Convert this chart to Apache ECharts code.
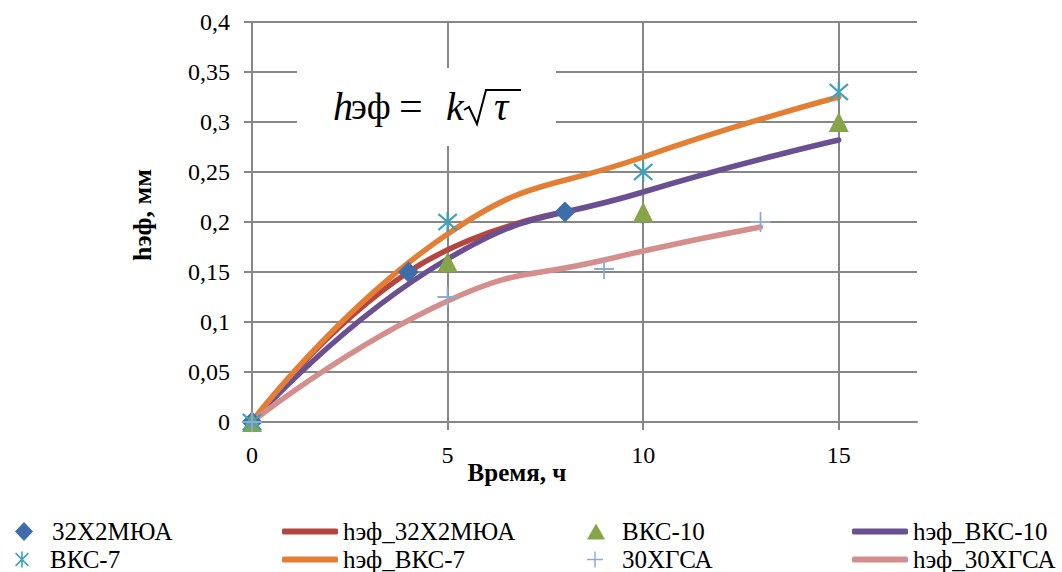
<!DOCTYPE html>
<html><head><meta charset="utf-8">
<script src="https://cdn.jsdelivr.net/npm/echarts@6/dist/echarts.min.js"></script>
<style>html,body{margin:0;padding:0;background:#fff}#c{width:1062px;height:572px}</style>
</head><body><div id="c"></div><script>
// ---- data ----
const xTicks = [0, 5, 10, 15];
const yTicks = [0, 0.05, 0.1, 0.15, 0.2, 0.25, 0.3, 0.35, 0.4];

const x32 = [0, 4, 8];           const y32 = [0, 0.15, 0.21];
const x32fit = [0, 4, 8];        const y32fit = [0, 0.15, 0.21];
const xV10 = [0, 5, 10, 15];     const yV10 = [0, 0.16, 0.21, 0.30];
const xV10fit = [0, 5, 10, 15];  const yV10fit = [0, 0.163, 0.23, 0.282];
const xV7 = [0, 5, 10, 15];      const yV7 = [0, 0.20, 0.25, 0.33];
const xV7fit = [0, 5, 10, 15];   const yV7fit = [0, 0.188, 0.265, 0.325];
const x30 = [0, 5, 9, 13];       const y30 = [0, 0.125, 0.153, 0.20];
const x30fit = [0, 5, 9, 13];    const y30fit = [0, 0.121, 0.162, 0.195];

const names = ['32Х2МЮА','hэф_32Х2МЮА','ВКС-10','hэф_ВКС-10','ВКС-7','hэф_ВКС-7','30ХГСА','hэф_30ХГСА'];

// ---- styling ----
const FONT = 'Liberation Serif';
const GRID = '#878787';
const pair = (xs, ys) => xs.map((x, i) => [x, ys[i]]);
const ASTER = 'path://M9,0H11V20H9Z M2.7,1.3L18.7,17.3L17.3,18.7L1.3,2.7Z M17.3,1.3L18.7,2.7L2.7,18.7L1.3,17.3Z';
const PLUS = 'path://M9.1,0H10.9V20H9.1Z M0,9.1H20V10.9H0Z';

function sc(name, xs, ys, symbol, size, color) {
  return { name, type: 'scatter', data: pair(xs, ys), symbol, symbolSize: size, z: 4,
    itemStyle: { color, opacity: 1 }, emphasis: { disabled: true } };
}
function ln(name, xs, ys, color) {
  return { name, type: 'line', data: pair(xs, ys), smooth: 0.5, symbol: 'none', z: 3,
    lineStyle: { color, width: 5.5, cap: 'round' }, itemStyle: { color }, emphasis: { disabled: true } };
}
const C = { dia: '#3E6EAA', red: '#B5453F', grn: '#86A44A', pur: '#6A5090', teal: '#3FA2BA', org: '#E27F34', lb: '#8EABD6', pink: '#D48F8D' };

const series = [
  ln(names[1], x32fit, y32fit, C.red),
  ln(names[3], xV10fit, yV10fit, C.pur),
  ln(names[5], xV7fit, yV7fit, C.org),
  ln(names[7], x30fit, y30fit, C.pink),
  sc(names[0], x32, y32, 'diamond', 21, C.dia),
  sc(names[2], xV10, yV10, 'triangle', 20, C.grn),
  sc(names[4], xV7, yV7, ASTER, 20, C.teal),
  sc(names[6], x30, y30, PLUS, 20, C.lb)
];

function leg(name, left, top, w, h, padL, icon) {
  const o = { data: [name], left, top, itemWidth: w, itemHeight: h, selectedMode: false,
    textStyle: { fontFamily: FONT, fontSize: 25, color: '#000', padding: [0, 0, 0, padL] } };
  if (icon) o.icon = icon;
  return o;
}
const legends = [
  leg(names[0], 10, 514, 18, 19, 14),
  leg(names[1], 277, 514, 56, 6, 0, 'roundRect'),
  leg(names[2], 582, 514, 18, 16, 12),
  leg(names[3], 847, 514, 56, 6, 0, 'roundRect'),
  leg(names[4], 10, 542, 18, 16, 14),
  leg(names[5], 277, 542, 56, 6, 0, 'roundRect'),
  leg(names[6], 582, 542, 16, 16, 14),
  leg(names[7], 847, 542, 56, 6, 0, 'roundRect')
];

const chart = echarts.init(document.getElementById('c'), null, { renderer: 'svg' });
chart.setOption({
  animation: false,
  backgroundColor: '#fff',
  textStyle: { fontFamily: FONT },
  grid: { left: 252, right: 145, top: 22, bottom: 150, containLabel: false, outerBoundsMode: 'none' },
  xAxis: {
    type: 'value', min: 0, max: 17, interval: 5,
    axisLine: { show: true, onZero: false, lineStyle: { color: GRID, width: 2 } },
    axisTick: { show: true, length: 8, customValues: xTicks, lineStyle: { color: GRID, width: 2 } },
    axisLabel: { customValues: xTicks, margin: 21, fontFamily: FONT, fontSize: 24, color: '#000' },
    splitLine: { show: true, lineStyle: { color: GRID, width: 2 } }
  },
  yAxis: {
    type: 'value', min: 0, max: 0.4, interval: 0.05,
    axisLine: { show: true, onZero: false, lineStyle: { color: GRID, width: 2 } },
    axisTick: { show: true, length: 8, lineStyle: { color: GRID, width: 2 } },
    axisLabel: { margin: 22, fontFamily: FONT, fontSize: 24, color: '#000',
      formatter: v => String(+v.toFixed(2)).replace('.', ',') },
    splitLine: { show: true, lineStyle: { color: GRID, width: 2 } }
  },
  legend: legends,
  series,
  graphic: {
    elements: [
      { type: 'rect', z: 5, shape: { x: 297, y: 68, width: 259, height: 78 }, style: { fill: '#fff' } },
      { type: 'text', z: 6, x: 333, y: 106, style: { text: 'h', fontFamily: FONT, fontSize: 40, fontStyle: 'italic', fill: '#000', verticalAlign: 'middle' } },
      { type: 'text', z: 6, x: 351, y: 106, style: { text: 'эф', fontFamily: FONT, fontSize: 37, fill: '#000', verticalAlign: 'middle' } },
      { type: 'text', z: 6, x: 399, y: 106, style: { text: '=', fontFamily: FONT, fontSize: 42, fill: '#000', verticalAlign: 'middle' } },
      { type: 'text', z: 6, x: 446, y: 106, style: { text: 'k', fontFamily: FONT, fontSize: 40, fontStyle: 'italic', fill: '#000', verticalAlign: 'middle' } },
      { type: 'polyline', z: 6, shape: { points: [[464, 110], [469, 107], [477, 124], [486, 90], [521, 90]] },
        style: { stroke: '#000', lineWidth: 2, fill: null } },
      { type: 'text', z: 6, x: 494, y: 106, style: { text: 'τ', fontFamily: FONT, fontSize: 40, fontStyle: 'italic', fill: '#000', verticalAlign: 'middle' } },
      { type: 'text', z: 6, x: 142, y: 215, rotation: Math.PI / 2,
        style: { text: 'hэф, мм', fontFamily: FONT, fontSize: 26, fontWeight: 'bold', fill: '#000', align: 'center', verticalAlign: 'middle' } },
      { type: 'text', z: 6, x: 517, y: 472,
        style: { text: 'Время, ч', fontFamily: FONT, fontSize: 25, fontWeight: 'bold', fill: '#000', align: 'center', verticalAlign: 'middle' } }
    ]
  }
});
</script></body></html>
